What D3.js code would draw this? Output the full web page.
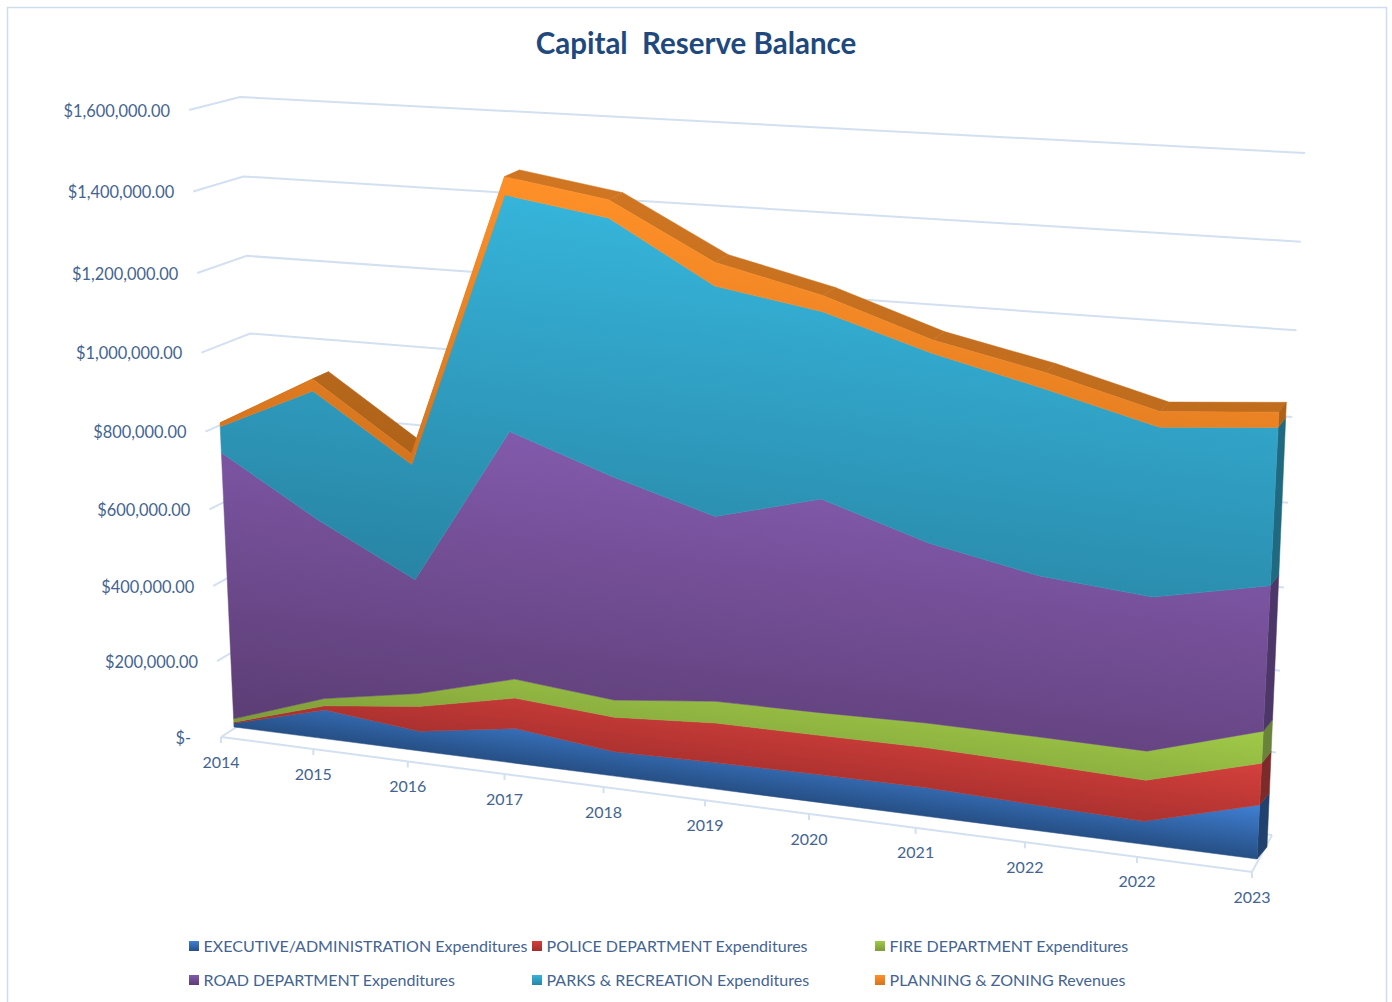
<!DOCTYPE html>
<html>
<head>
<meta charset="utf-8">
<script src="https://cdnjs.cloudflare.com/ajax/libs/d3/7.8.5/d3.min.js"></script>
<style>
  html, body { margin: 0; background: #fff; }
  svg { display: block; font-family: Lato, "Open Sans", sans-serif; }
</style>
</head>
<body>
<div id="chart"></div>
<script>
// Capital reserve balance, stacked by department, thousands of dollars per year.
const years = ["2014","2015","2016","2017","2018","2019","2020","2021","2022","2022","2023"];
const executive = [10, 77, 52, 91, 63, 68, 71, 72, 64, 57, 132];
const police    = [3, 11, 65, 79, 89, 101, 99, 100, 102, 101, 101];
const fire      = [9, 19, 34, 49, 44, 55, 57, 61, 66, 71, 77];
const road      = [697, 465, 294, 624, 561, 460, 525, 439, 389, 370, 344];
const parks     = [66, 326, 292, 571, 620, 552, 444, 448, 439, 396, 364];
const planning  = [10, 30, 27, 43, 43, 56, 38, 31, 38, 36, 35];

const seriesNames = [
  "EXECUTIVE/ADMINISTRATION Expenditures", "POLICE DEPARTMENT Expenditures",
  "FIRE DEPARTMENT Expenditures", "ROAD DEPARTMENT Expenditures",
  "PARKS & RECREATION Expenditures", "PLANNING & ZONING Revenues"
];
const seriesValues = [executive, police, fire, road, parks, planning];
const lightColors = ["#4080d4", "#d4403c", "#a0ca48", "#825aac", "#36b4da", "#ff9028"];
const darkColors  = ["#264f85", "#a22e2c", "#7d9a38", "#5c3d74", "#2884a4", "#d4741e"];
const sideColors  = ["#21426e", "#7c2a2a", "#69833a", "#4c3768", "#1f6a80", "#ad6219"];
const valueTicks = d3.range(0, 1600001, 200000);
// Share of the wall height reached by each tick once foreshortened.
const tickFractions = [0, 0.121, 0.241, 0.363, 0.487, 0.613, 0.74, 0.87, 1];

const width = 1392, height = 1002;
const svg = d3.select("#chart").append("svg").attr("width", width).attr("height", height);
const defs = svg.append("defs");

// Maps the unit square onto an arbitrary quadrilateral, which gives the 3D perspective.
function projective(p00, p10, p11, p01) {
  const dx1 = p10[0] - p11[0], dx2 = p01[0] - p11[0], sx = p00[0] - p10[0] + p11[0] - p01[0];
  const dy1 = p10[1] - p11[1], dy2 = p01[1] - p11[1], sy = p00[1] - p10[1] + p11[1] - p01[1];
  const det = dx1 * dy2 - dx2 * dy1;
  const g = (sx * dy2 - dx2 * sy) / det, h = (dx1 * sy - sx * dy1) / det;
  const a = p10[0] - p00[0] + g * p10[0], b = p01[0] - p00[0] + h * p01[0];
  const d = p10[1] - p00[1] + g * p10[1], e = p01[1] - p00[1] + h * p01[1];
  return (s, t) => {
    const w = g * s + h * t + 1;
    return [(a * s + b * t + p00[0]) / w, (d * s + e * t + p00[1]) / w];
  };
}

// Perspective bunching along the category direction.
const bunch = k => i => { const u = i / (years.length - 1); return u / (u + (1 - u) * k); };
const planeU = bunch(1.015), floorU = bunch(1.13);
const vScale = d3.scaleLinear().domain([0, 1600]).range([0, 1]);
const wallScale = d3.scaleLinear().domain(valueTicks).range(tickFractions);

// Faces of the extruded area: near plane and far plane.
const nearPlane = projective([234, 727], [1257, 859], [1291, 165], [205, 97]);
const farPlane  = projective([250, 720], [1267, 847], [1297, 157.5], [222, 91]);
const near = (i, v) => nearPlane(planeU(i), vScale(v));
const far  = (i, v) => farPlane(planeU(i), vScale(v));

// Wall edges: near-left, back-left and back-right, each from the floor to the top tick.
const edge = (x0, y0, x1, y1) => {
  const x = d3.scaleLinear().domain([0, 1]).range([x0, x1]);
  const y = d3.scaleLinear().domain([0, 1]).range([y0, y1]);
  return t => [x(t), y(t)];
};
const nearLeft  = edge(221, 737, 189, 110);
const backLeft  = edge(266, 708, 240, 97);
const backRight = edge(1272, 835, 1305, 153);

// Floor edge along which the years sit.
const floorX = d3.scaleLinear().domain([0, 1]).range([221, 1252]);
const floorY = d3.scaleLinear().domain([0, 1]).range([737, 872]);

const stack = d3.stack().keys(d3.range(seriesValues.length)).value((row, k) => row[k]);
const rows = years.map((_, i) => seriesValues.map(s => s[i]));
const layers = stack(rows);

const polyPath = d3.line();
const axisColor = "#d3e0f1", textColor = "#44648f";

// Gridlines run along the left wall and then across the back wall.
const grid = svg.append("g").attr("fill", "none").attr("stroke", axisColor).attr("stroke-width", 2);
grid.selectAll("path").data(valueTicks).join("path").attr("d", v => {
  const t = wallScale(v);
  return polyPath([nearLeft(t), backLeft(t), backRight(t)]);
});

// Floor outline.
const floorNear = [floorX(0), floorY(0)], floorNearEnd = [floorX(1), floorY(1)];
grid.append("path").attr("d", polyPath([floorNear, floorNearEnd, backRight(0)]));
grid.selectAll("line.tick").data(years).join("line").attr("class", "tick")
  .attr("x1", (_, i) => floorX(floorU(i))).attr("y1", (_, i) => floorY(floorU(i)))
  .attr("x2", (_, i) => floorX(floorU(i))).attr("y2", (_, i) => floorY(floorU(i)) + 6);

// Chart frame.
svg.append("rect").attr("x", 7.5).attr("y", 7.5).attr("width", 1379).attr("height", 1020)
  .attr("fill", "none").attr("stroke", "#cfdcec").attr("stroke-width", 1.5);

// A gradient per series, running square to the sloping floor.
const slope = 132 / 1023;
const tOf = p => p[1] - slope * (p[0] - 234);
function addGradient(id, pts, c0, c1) {
  const ts = pts.map(tOf), t0 = d3.min(ts), t1 = d3.max(ts);
  const k = 1 / (1 + slope * slope);
  const at = t => [234 - slope * t * k, t * k];
  const a = at(t0), b = at(t1);
  const g = defs.append("linearGradient").attr("id", id).attr("gradientUnits", "userSpaceOnUse")
    .attr("x1", a[0]).attr("y1", a[1]).attr("x2", b[0]).attr("y2", b[1]);
  g.append("stop").attr("offset", 0).attr("stop-color", c0);
  g.append("stop").attr("offset", 1).attr("stop-color", c1);
}

const faces = layers.map((layer, k) => {
  const top = layer.map((d, i) => near(i, d[1]));
  const bottom = layer.map((d, i) => near(i, d[0])).reverse();
  const pts = top.concat(bottom);
  addGradient("face" + k, pts, lightColors[k], darkColors[k]);
  return pts;
});

// Upper surface of the top layer, drawn behind the near faces.
const topLayer = layers[layers.length - 1];
addGradient("roof", faces[faces.length - 1], "#d07622", "#ad6219");
svg.append("g").selectAll("path").data(d3.pairs(d3.range(years.length))).join("path")
  .attr("d", ([a, b]) => polyPath([near(a, topLayer[a][1]), near(b, topLayer[b][1]), far(b, topLayer[b][1]), far(a, topLayer[a][1])]) + "Z")
  .attr("fill", "url(#roof)").attr("stroke", "url(#roof)").attr("stroke-width", 0.5);

// End cap at the last year.
const last = years.length - 1;
svg.append("g").selectAll("path").data(layers).join("path")
  .attr("d", l => polyPath([near(last, l[last][0]), near(last, l[last][1]), far(last, l[last][1]), far(last, l[last][0])]) + "Z")
  .attr("fill", (_, k) => sideColors[k]).attr("stroke", (_, k) => sideColors[k]).attr("stroke-width", 0.5);

// Near faces.
svg.append("g").selectAll("path").data(faces).join("path")
  .attr("d", pts => polyPath(pts) + "Z")
  .attr("fill", (_, k) => `url(#face${k})`).attr("stroke", (_, k) => `url(#face${k})`).attr("stroke-width", 0.5);

// Value labels.
const dollars = d3.format("$,.2f");
svg.append("g").attr("font-size", 16.4).attr("fill", textColor).attr("text-anchor", "end")
  .selectAll("text").data(valueTicks).join("text")
  .attr("x", v => nearLeft(wallScale(v))[0] - (v === 0 ? 30 : 19))
  .attr("y", v => nearLeft(wallScale(v))[1] + 2.5)
  .attr("dominant-baseline", "middle")
  .text(v => v === 0 ? "$-" : dollars(v));

// Year labels.
svg.append("g").attr("font-size", 16).attr("fill", textColor).attr("text-anchor", "middle")
  .selectAll("text").data(years).join("text")
  .attr("x", (_, i) => floorX(floorU(i)))
  .attr("y", (_, i) => floorY(floorU(i)) + 26.5)
  .attr("dominant-baseline", "middle")
  .text(d => d);

// Title.
svg.append("text").attr("x", 696).attr("y", 54).attr("text-anchor", "middle")
  .attr("font-size", 29.5).attr("font-weight", 700).attr("fill", "#1f497d")
  .style("white-space", "pre").text("Capital  Reserve Balance");

// Legend, two rows of three.
const legendX = d3.scalePoint().domain([0, 1, 2]).range([189, 875]);
const legendY = d3.scalePoint().domain([0, 1]).range([946, 980]);
seriesNames.forEach((name, k) => {
  const x = legendX(k % 3), y = legendY(Math.floor(k / 3));
  const gid = "swatch" + k;
  const g = defs.append("linearGradient").attr("id", gid).attr("x1", 0).attr("y1", 0).attr("x2", 0).attr("y2", 1);
  g.append("stop").attr("offset", 0).attr("stop-color", lightColors[k]);
  g.append("stop").attr("offset", 1).attr("stop-color", darkColors[k]);
  svg.append("rect").attr("x", x).attr("y", y - 5).attr("width", 10).attr("height", 10).attr("fill", `url(#${gid})`);
  svg.append("text").attr("x", x + 14.5).attr("y", y + 2).attr("dominant-baseline", "middle")
    .attr("font-size", 16.05).attr("fill", textColor).text(name);
});
</script>
</body>
</html>
